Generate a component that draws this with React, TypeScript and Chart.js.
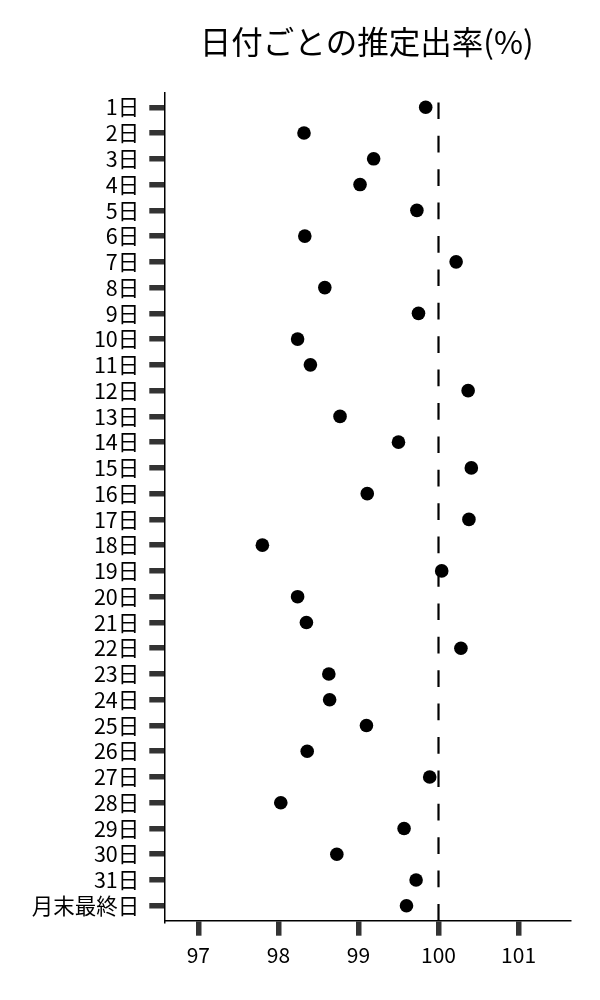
import { useEffect, useRef } from 'react';
import { Chart, registerables } from 'chart.js';

Chart.register(...registerables);

const TITLE = '日付ごとの推定出率(%)';

const DAY_LABELS = [
  '1日', '2日', '3日', '4日', '5日', '6日', '7日', '8日', '9日', '10日',
  '11日', '12日', '13日', '14日', '15日', '16日', '17日', '18日', '19日', '20日',
  '21日', '22日', '23日', '24日', '25日', '26日', '27日', '28日', '29日', '30日',
  '31日', '月末最終日',
];

const RATES = [
  99.84, 98.32, 99.19, 99.02, 99.73, 98.33, 100.22, 98.58, 99.75, 98.24,
  98.40, 100.37, 98.77, 99.50, 100.41, 99.11, 100.38, 97.80, 100.04, 98.24,
  98.35, 100.28, 98.63, 98.64, 99.10, 98.36, 99.89, 98.03, 99.57, 98.73,
  99.72, 99.60,
];

const X_TICKS = [97, 98, 99, 100, 101];

const REFERENCE = 100;

const X_MIN = 96.575;
const X_MAX = 101.63;
const Y_MIN = -0.567;
const Y_MAX = 31.58;

const FONT = "'Noto Sans CJK JP', 'Noto Sans', sans-serif";

export default function App() {
  const ref = useRef<HTMLCanvasElement>(null);

  useEffect(() => {
    document.body.style.margin = '0';
    Chart.defaults.font.family = FONT;
    const canvas = ref.current;
    if (!canvas) return;

    const tickGrid = {
      display: true,
      drawOnChartArea: false,
      drawTicks: true,
      tickLength: 15,
      lineWidth: 5.5,
      color: '#333333',
    };
    const border = { display: true, color: '#000000', width: 1.5 };

    const chart = new Chart(canvas, {
      type: 'scatter',
      data: {
        datasets: [
          {
            type: 'line',
            data: [
              { x: REFERENCE, y: Y_MAX },
              { x: REFERENCE, y: Y_MIN },
            ],
            borderColor: '#000000',
            borderWidth: 2.2,
            borderDash: [16.7, 16.7],
            pointRadius: 0,
            fill: false,
            order: 2,
          } as any,
          {
            data: RATES.map((v, i) => ({ x: v, y: i })),
            backgroundColor: '#000000',
            borderColor: '#000000',
            borderWidth: 0,
            pointRadius: 6.8,
            pointHoverRadius: 6.8,
            order: 1,
          },
        ],
      },
      options: {
        animation: false,
        responsive: false,
        events: [],
        layout: { padding: { left: 0, right: 31, top: 0, bottom: 0 } },
        plugins: {
          legend: { display: false },
          tooltip: { enabled: false },
          title: {
            display: true,
            text: TITLE,
            fullSize: false,
            color: '#000000',
            font: { size: 31.5, weight: 'normal', lineHeight: 1.2, family: FONT },
            padding: { top: 23, bottom: 31.9 },
          },
        },
        scales: {
          x: {
            type: 'linear',
            min: X_MIN,
            max: X_MAX,
            afterBuildTicks: (s: any) => {
              s.ticks = X_TICKS.map((v) => ({ value: v }));
            },
            afterFit: (s: any) => {
              s.height = 79.3;
            },
            ticks: {
              color: '#000000',
              font: { size: 21, family: FONT },
              padding: 7,
              maxRotation: 0,
              autoSkip: false,
            },
            grid: tickGrid,
            border,
          },
          y: {
            type: 'linear',
            reverse: true,
            min: Y_MIN,
            max: Y_MAX,
            afterBuildTicks: (s: any) => {
              s.ticks = DAY_LABELS.map((_, i) => ({ value: i }));
            },
            afterFit: (s: any) => {
              s.width = 164.3;
            },
            ticks: {
              color: '#000000',
              font: { size: 21.5, family: FONT },
              padding: 10,
              autoSkip: false,
              callback: (v: any) => DAY_LABELS[Math.round(Number(v))] ?? '',
            },
            grid: tickGrid,
            border,
          },
        },
      } as any,
    });

    return () => chart.destroy();
  }, []);

  return (
    <div style={{ width: 600, height: 1000, position: 'relative' }}>
      <canvas ref={ref} width={600} height={1000} style={{ width: 600, height: 1000, display: 'block' }} />
    </div>
  );
}
